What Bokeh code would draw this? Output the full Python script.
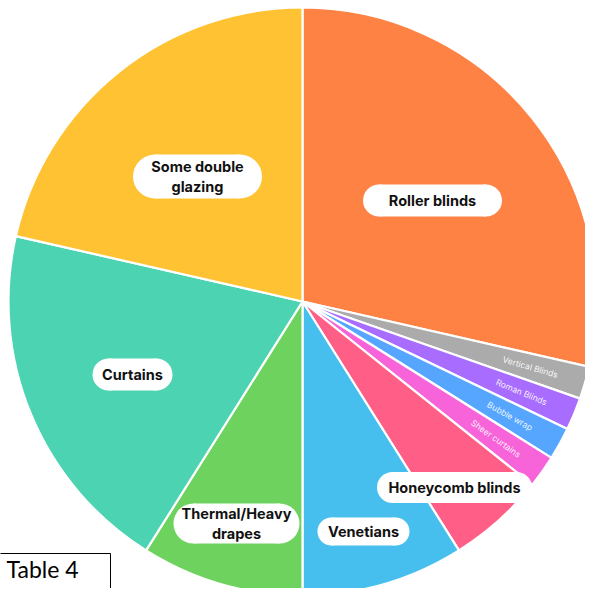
import math
from bokeh.plotting import figure
from bokeh.models import Range1d, ColumnDataSource
from bokeh.core.properties import value
from bokeh.embed import file_html
from bokeh.resources import INLINE

# ---- data ----
categories = ["Roller blinds", "Vertical Blinds", "Roman Blinds", "Bubble wrap",
              "Sheer curtains", "Honeycomb blinds", "Venetians",
              "Thermal/Heavy drapes", "Curtains", "Some double glazing"]
counts = [16, 1, 1, 1, 1, 3, 5, 5, 11, 12]
colors = ["#FF8245", "#ABABAB", "#A86CFF", "#56A6FF", "#F763D9",
          "#FF5E86", "#47BFEE", "#6DD35E", "#4CD4B2", "#FFC233"]
box_texts = ["Roller blinds", None, None, None, None, "Honeycomb blinds",
             "Venetians", "Thermal/Heavy\ndrapes", "Curtains", "Some double\nglazing"]
small_texts = [None, "Vertical Blinds", "Roman Blinds", "Bubble wrap",
               "Sheer curtains", None, None, None, None, None]

# ---- layout (picture-pixel-like data coordinates, y measured from bottom 596) ----
W, H = 585, 588
CX, CY, R = 302, 295, 294

p = figure(width=W, height=H, output_backend="svg", toolbar_location=None,
           x_range=Range1d(0, W), y_range=Range1d(596 - H, 596),
           x_axis_type=None, y_axis_type=None, min_border=0)
p.grid.visible = False
p.outline_line_color = None
p.background_fill_color = "white"

total = sum(counts)
starts, ends, mids = [], [], []
cum = 0
for c in counts:
    a0 = math.pi / 2 - 2 * math.pi * cum / total
    cum += c
    a1 = math.pi / 2 - 2 * math.pi * cum / total
    starts.append(a0)
    ends.append(a1)
    mids.append((a0 + a1) / 2)

src = ColumnDataSource(dict(start=starts, end=ends, color=colors, cat=categories))
p.wedge(x=CX, y=CY, radius=R, start_angle="start", end_angle="end",
        direction="clock", fill_color="color", line_color="white",
        line_width=2.2, source=src)

# small rotated labels
sx, sy, st, sa = [], [], [], []
for t, m in zip(small_texts, mids):
    if t:
        r = 237
        sx.append(CX + r * math.cos(m))
        sy.append(CY + r * math.sin(m))
        st.append(t)
        sa.append(m)
p.text(x=sx, y=sy, text=st, angle=sa, text_color="white", text_alpha=0.92,
       text_font=value("Inter"), text_font_size="8.5px",
       text_align="center", text_baseline="middle")

# pill label boxes (centre x, centre y, width, height) in picture pixels
box_geom = {
    "Roller blinds": (432, 200, 139, 32),
    "Honeycomb blinds": (454, 487, 155, 31),
    "Venetians": (363, 531, 92, 28),
    "Thermal/Heavy\ndrapes": (236, 523, 126, 40),
    "Curtains": (132, 374, 80, 32),
    "Some double\nglazing": (197, 176, 129, 44),
}
bx, by, bw, bh, cxs, cys, crs, tx = [], [], [], [], [], [], [], []
for t in box_texts:
    if t:
        x, y, w, h = box_geom[t]
        yd = 596 - y
        bx.append(x); by.append(yd); bw.append(w - h); bh.append(h)
        cxs += [x - (w - h) / 2, x + (w - h) / 2]
        cys += [yd, yd]
        crs += [h / 2, h / 2]
        tx.append(t)
p.rect(x=bx, y=by, width=bw, height=bh, fill_color="white", line_color=None)
p.circle(x=cxs, y=cys, radius=crs, fill_color="white", line_color=None)
p.text(x=bx, y=by, text=tx, text_color="#111111", text_font=value("Inter"),
       text_font_style="bold", text_font_size="14.5px", text_line_height=1.12,
       text_align="center", text_baseline="middle")

# "Table 4" caption box
p.quad(left=[-10], right=[110], bottom=[-10], top=[596 - 553], fill_color="white",
       line_color="black", line_width=1)
p.text(x=[6], y=[596 - 568], text=["Table 4"], text_color="black",
       text_font=value("Lato"), text_font_size="23px",
       text_align="left", text_baseline="middle")

open("out.html", "w").write(file_html(p, INLINE))
